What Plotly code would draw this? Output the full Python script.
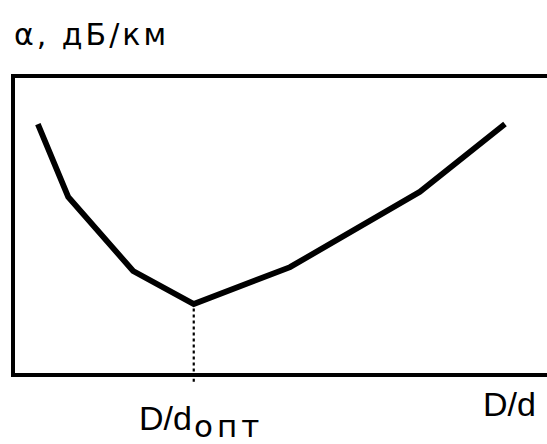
import plotly.graph_objects as go

# Attenuation vs. D/d ratio (arbitrary units)
d_ratio = [0.43, 1.00, 2.22, 3.36, 5.17, 7.61, 9.21]
alpha = [8.44, 5.97, 3.46, 2.34, 3.59, 6.14, 8.44]

x_opt = d_ratio[alpha.index(min(alpha))]
alpha_min = min(alpha)

y_title = "α, дБ/км"
x_title = "D/d"
x_opt_main = "D/d"
x_opt_sub = "опт"

FONT = "Liberation Sans, Arial, sans-serif"
WIDE_FONT = "DejaVu Sans, Liberation Sans, sans-serif"

fig = go.Figure()

fig.add_trace(go.Scatter(
    x=d_ratio, y=alpha, mode="lines",
    line=dict(color="black", width=5.8),
    hoverinfo="skip", showlegend=False,
))

# dotted drop line from the minimum down through the axis
fig.add_shape(
    type="line", xref="x", yref="paper",
    x0=x_opt, x1=x_opt, y0=-0.03, y1=0,
    line=dict(color="black", width=2.2, dash="dot"),
)
fig.add_trace(go.Scatter(
    x=[x_opt, x_opt], y=[alpha_min - 0.15, 0], mode="lines",
    line=dict(color="black", width=2.2, dash="dot"),
    hoverinfo="skip", showlegend=False,
))

fig.update_xaxes(
    range=[0, 10], showgrid=False, zeroline=False, showticklabels=False,
    ticks="", showline=True, linecolor="black", linewidth=3.5, mirror=True,
)
fig.update_yaxes(
    range=[0, 10], showgrid=False, zeroline=False, showticklabels=False,
    ticks="", showline=True, linecolor="black", linewidth=3.5, mirror=False,
)

annotations = [
    dict(text=f'<span style="letter-spacing:3px">{y_title}</span>',
         xref="paper", yref="paper", x=-0.005, y=1.2136,
         xanchor="left", yanchor="top", showarrow=False,
         font=dict(family=WIDE_FONT, size=30, color="black")),
    dict(text=x_title, xref="paper", yref="paper", x=0.876, y=-0.033,
         xanchor="left", yanchor="top", showarrow=False,
         font=dict(family=FONT, size=34, color="black")),
    dict(text=x_opt_main, xref="paper", yref="paper", x=0.229, y=-0.081,
         xanchor="left", yanchor="top", showarrow=False,
         font=dict(family=FONT, size=34, color="black")),
    dict(text=f'<span style="letter-spacing:4px">{x_opt_sub}</span>',
         xref="paper", yref="paper", x=0.333, y=-0.112,
         xanchor="left", yanchor="top", showarrow=False,
         font=dict(family=WIDE_FONT, size=31, color="black")),
]

fig.update_layout(
    width=547, height=444,
    margin=dict(l=15, r=0, t=78, b=71, pad=0),
    paper_bgcolor="white", plot_bgcolor="white",
    annotations=annotations,
)

fig.write_html("out.html", config={"displayModeBar": False})
